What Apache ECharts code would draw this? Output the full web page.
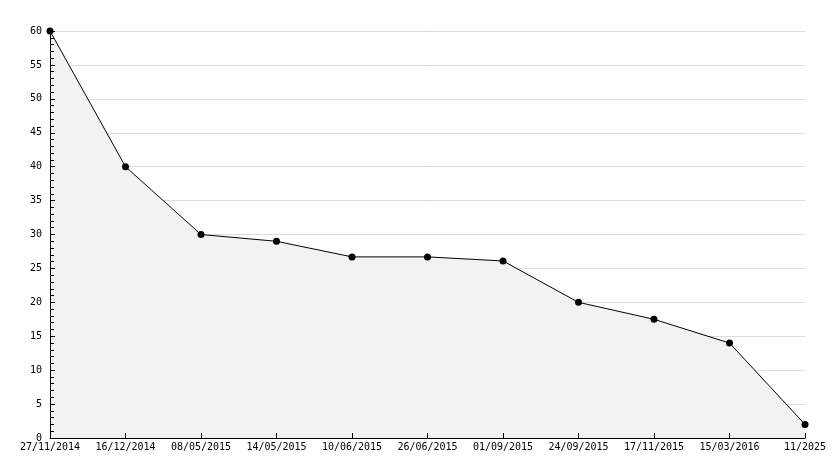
<!DOCTYPE html>
<html><head><meta charset="utf-8">
<script src="https://cdn.jsdelivr.net/npm/echarts@6/dist/echarts.min.js"></script>
<style>html,body{margin:0;padding:0;background:#fff}#c{width:834px;height:468px}</style>
</head><body><div id="c"></div>
<script>
const categories = ['27/11/2014','16/12/2014','08/05/2015','14/05/2015','10/06/2015','26/06/2015','01/09/2015','24/09/2015','17/11/2015','15/03/2016','11/2025'];
const values = [60, 40, 30, 29, 26.7, 26.7, 26.1, 20, 17.5, 14, 2];
const yTicks = {min: 0, max: 60, interval: 5};
const font = 'DejaVu Sans Mono';
const gridLeft = 50, gridRight = 29, chartW = 834;
const chart = echarts.init(document.getElementById('c'));
const xBase = {type: 'category', data: categories, boundaryGap: false, position: 'bottom'};
const yBase = {type: 'value', min: yTicks.min, max: yTicks.max, interval: yTicks.interval};
chart.setOption({
  animation: false,
  grid: {left: gridLeft, right: gridRight, top: 31, bottom: 30},
  xAxis: [
    Object.assign({}, xBase, {
      z: 0,
      axisLine: {show: false}, axisTick: {show: false}, axisLabel: {show: false},
      splitLine: {show: false}
    }),
    Object.assign({}, xBase, {
      z: 10,
      axisLine: {show: true, lineStyle: {color: '#000', width: 1}},
      axisTick: {show: true, inside: true, length: 5, lineStyle: {color: '#000'}},
      axisLabel: {color: '#000', fontFamily: font, fontSize: 10, margin: 4, interval: 0},
      splitLine: {show: false}
    })
  ],
  yAxis: [
    Object.assign({}, yBase, {
      position: 'left', z: 0,
      axisLine: {show: false}, axisTick: {show: false}, axisLabel: {show: false},
      splitLine: {show: true, lineStyle: {color: '#dcdcdc', width: 1}}
    }),
    Object.assign({}, yBase, {
      position: 'left', z: 10,
      axisLine: {show: true, lineStyle: {color: '#000', width: 1}},
      axisTick: {show: false},
      axisLabel: {color: '#000', fontFamily: font, fontSize: 10, margin: 8},
      splitLine: {show: false}
    }),
    Object.assign({}, yBase, {
      position: 'right', offset: -(chartW - gridLeft - gridRight), z: 10,
      axisLine: {show: false},
      axisTick: {show: true, inside: false, length: 5, lineStyle: {color: '#000', width: 1}},
      minorTick: {show: true, splitNumber: 5, length: 4, lineStyle: {color: '#000', width: 1}},
      axisLabel: {show: false},
      splitLine: {show: false}
    })
  ],
  series: [{
    type: 'line', data: values, xAxisIndex: 0, yAxisIndex: 0,
    symbol: 'circle', symbolSize: 7,
    itemStyle: {color: '#000'},
    lineStyle: {color: '#000', width: 1},
    areaStyle: {color: '#f2f2f2', opacity: 1},
    z: 2
  }]
});
</script></body></html>
